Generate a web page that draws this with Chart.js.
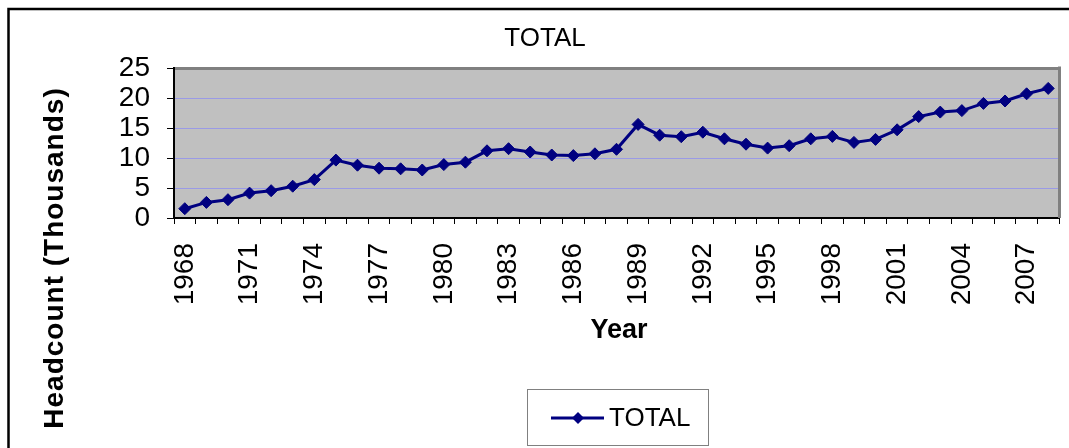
<!DOCTYPE html>
<html>
<head>
<meta charset="utf-8">
<script src="https://cdn.jsdelivr.net/npm/chart.js@4.4.0/dist/chart.umd.min.js"></script>
<style>
  html, body { margin: 0; padding: 0; background: #fff; }
  canvas { display: block; }
</style>
</head>
<body>
<canvas id="myChart" width="1069" height="448"></canvas>
<script>
// headcount per year, thousands
var years = [1968, 1969, 1970, 1971, 1972, 1973, 1974, 1975, 1976, 1977,
  1978, 1979, 1980, 1981, 1982, 1983, 1984, 1985, 1986, 1987,
  1988, 1989, 1990, 1991, 1992, 1993, 1994, 1995, 1996, 1997,
  1998, 1999, 2000, 2001, 2002, 2003, 2004, 2005, 2006, 2007, 2008];
var total = [1.55, 2.6, 3.05, 4.15, 4.55, 5.3, 6.4, 9.65, 8.8, 8.3,
  8.2, 8.0, 8.9, 9.3, 11.2, 11.55, 11.0, 10.5, 10.4, 10.7,
  11.45, 15.6, 13.8, 13.55, 14.3, 13.2, 12.3, 11.65, 12.05, 13.2,
  13.6, 12.6, 13.1, 14.7, 16.9, 17.65, 17.9, 19.1, 19.5, 20.7, 21.6];
var yTicks = [0, 5, 10, 15, 20, 25];

var navy = "#000080";
var font = "Arial, 'Liberation Sans', sans-serif";

// background, frame, titles and legend
var decor = {
  id: "decor",
  beforeDraw: function (chart) {
    var ctx = chart.ctx, a = chart.chartArea;
    ctx.save();
    ctx.fillStyle = "#c0c0c0";
    ctx.fillRect(a.left, a.top, a.right - a.left, a.bottom - a.top);
    ctx.restore();
  },
  afterDraw: function (chart) {
    var ctx = chart.ctx, a = chart.chartArea;
    ctx.save();
    // right border of plot
    ctx.strokeStyle = "#808080";
    ctx.lineWidth = 3;
    ctx.beginPath();
    ctx.moveTo(a.right + 0.5, a.top - 1.5);
    ctx.lineTo(a.right + 0.5, a.bottom);
    ctx.stroke();

    // outer frame
    ctx.strokeStyle = "#000";
    ctx.lineWidth = 2.5;
    ctx.beginPath();
    ctx.moveTo(8.5, 448);
    ctx.lineTo(8.5, 9);
    ctx.lineTo(1069, 9);
    ctx.stroke();

    ctx.fillStyle = "#000";
    ctx.textAlign = "center";
    ctx.textBaseline = "middle";

    ctx.font = "26px " + font;
    ctx.fillText("TOTAL", 545, 39);

    ctx.font = "bold 27px " + font;
    ctx.fillText("Year", 619, 331);

    ctx.save();
    ctx.translate(55, 258);
    ctx.rotate(-Math.PI / 2);
    ctx.font = "bold 28px " + font;
    ctx.letterSpacing = "1px";
    ctx.fillText("Headcount (Thousands)", 0, 0);
    ctx.restore();

    // legend
    ctx.strokeStyle = "#808080";
    ctx.lineWidth = 1;
    ctx.strokeRect(527.5, 389.5, 181, 56);
    ctx.strokeStyle = navy;
    ctx.lineWidth = 3;
    ctx.beginPath();
    ctx.moveTo(551, 418);
    ctx.lineTo(604, 418);
    ctx.stroke();
    ctx.fillStyle = navy;
    ctx.beginPath();
    ctx.moveTo(578, 412);
    ctx.lineTo(584, 418);
    ctx.lineTo(578, 424);
    ctx.lineTo(572, 418);
    ctx.closePath();
    ctx.fill();
    ctx.fillStyle = "#000";
    ctx.textAlign = "left";
    ctx.font = "26px " + font;
    ctx.fillText("TOTAL", 609, 419);
    ctx.restore();
  }
};

var ctx = document.getElementById("myChart").getContext("2d");
var myChart = new Chart(ctx, {
  type: "line",
  data: {
    labels: years,
    datasets: [
      {
        label: "TOTAL",
        data: total,
        borderColor: navy,
        backgroundColor: navy,
        borderWidth: 3,
        pointStyle: "rectRot",
        pointRadius: 6,
        pointBorderWidth: 1,
        tension: 0,
      },
    ],
  },
  options: {
    responsive: false,
    animation: false,
    devicePixelRatio: 1,
    layout: { padding: { left: 0, top: 68, right: 10, bottom: 0 } },
    plugins: {
      legend: { display: false },
      title: { display: false },
      tooltip: { enabled: false },
    },
    scales: {
      x: {
        type: "category",
        offset: true,
        grid: {
          offset: true,
          drawOnChartArea: false,
          drawTicks: true,
          tickLength: 6,
          tickColor: "#000",
        },
        border: { display: true, color: "#000", width: 2 },
        ticks: {
          autoSkip: false,
          minRotation: 90,
          maxRotation: 90,
          padding: 19,
          color: "#000",
          font: { family: font, size: 28 },
          callback: function (v, i) {
            return i % 3 === 0 ? String(years[i]) : "";
          },
        },
        afterFit: function (s) {
          s.height = 230;
          s.paddingLeft = 0;
          s.paddingRight = 0;
        },
      },
      y: {
        min: 0,
        max: 25,
        afterBuildTicks: function (s) {
          s.ticks = yTicks.map(function (v) { return { value: v }; });
        },
        grid: {
          color: function (c) {
            if (c.tick.value === 0) return "rgba(0,0,0,0)";
            if (c.tick.value === 25) return "#808080";
            return "#9a9ae6";
          },
          lineWidth: function (c) {
            return c.tick.value === 25 ? 3 : 1;
          },
          tickColor: "#000",
          tickWidth: 1,
          tickLength: 7,
        },
        border: { display: true, color: "#000", width: 2 },
        ticks: {
          autoSkip: false,
          padding: 17,
          color: "#000",
          font: { family: font, size: 28 },
        },
        afterFit: function (s) {
          s.width = 174;
          s.paddingTop = 0;
          s.paddingBottom = 0;
        },
      },
    },
  },
  plugins: [decor],
});
</script>
</body>
</html>
